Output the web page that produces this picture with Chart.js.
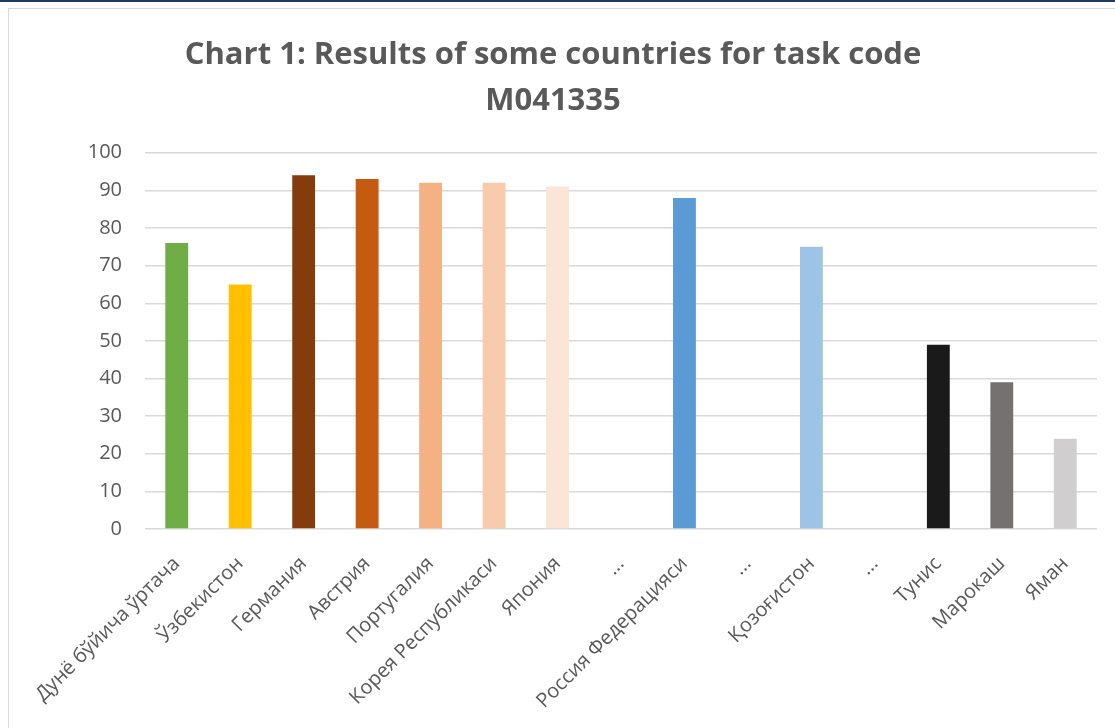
<!DOCTYPE html>
<html>
<head>
<meta charset="utf-8">
<script src="https://cdn.jsdelivr.net/npm/chart.js@4.4.0/dist/chart.umd.min.js"></script>
<style>
  html, body { margin: 0; padding: 0; background: #fff; overflow: hidden; }
  #topline { position: absolute; left: 0; top: 0; width: 1115px; height: 2px; background: #1f3864; }
  #frame { position: absolute; left: 8px; top: 8px; width: 1116px; height: 720px;
           border-left: 1px solid #d9d9d9; border-top: 1px solid #d9d9d9; }
  #chart { position: absolute; left: 0; top: 0; }
</style>
</head>
<body>
<div id="topline"></div>
<div id="frame">
  <canvas id="chart" width="1116" height="720"></canvas>
</div>
<script>
// categories, scores and bar colours
const countries = [
  'Дунё бўйича ўртача', 'Ўзбекистон', 'Германия', 'Австрия', 'Португалия',
  'Корея Республикаси', 'Япония', '...', 'Россия Федерацияси', '...',
  'Қозоғистон', '...', 'Тунис', 'Марокаш', 'Яман'
];
const scores = [76, 65, 94, 93, 92, 92, 91, null, 88, null, 75, null, 49, 39, 24];
const barColors = [
  '#70ad47', '#ffc000', '#843c0c', '#c55a11', '#f4b183',
  '#f8cbad', '#fbe5d6', '#ffffff', '#5b9bd5', '#ffffff',
  '#9dc3e6', '#ffffff', '#1a1a1a', '#767171', '#d0cece'
];
const yTicks = [0, 10, 20, 30, 40, 50, 60, 70, 80, 90, 100];

const textColor = '#595959';
const gridColor = '#d9d9d9';

new Chart(document.getElementById('chart'), {
  type: 'bar',
  data: {
    labels: countries,
    datasets: [{
      data: scores,
      backgroundColor: barColors,
      borderWidth: 0,
      barPercentage: 0.72,
      categoryPercentage: 0.5
    }]
  },
  options: {
    responsive: false,
    animation: false,
    layout: { padding: { left: 0, right: 28, top: 0, bottom: 0 } },
    plugins: {
      legend: { display: false },
      tooltip: { enabled: false },
      title: {
        display: true,
        text: ['Chart 1: Results of some countries for task code', 'M041335'],
        color: textColor,
        font: { family: 'Open Sans', size: 31, weight: 'bold', lineHeight: 1.48 },
        padding: { top: 23, bottom: 29 }
      }
    },
    scales: {
      x: {
        grid: { display: false },
        border: { display: false },
        ticks: {
          color: textColor,
          font: { family: 'Open Sans', size: 20 },
          minRotation: 45,
          maxRotation: 45,
          autoSkip: false,
          padding: 15
        },
        afterFit: (scale) => { scale.height = 200; }
      },
      y: {
        min: 0,
        max: 100,
        afterBuildTicks: (scale) => { scale.ticks = yTicks.map(v => ({ value: v })); },
        grid: { color: gridColor, lineWidth: 1.5, drawTicks: false },
        border: { display: false },
        ticks: {
          color: textColor,
          font: { family: 'Open Sans', size: 20 },
          padding: 23
        },
        afterFit: (scale) => { scale.width = 136; }
      }
    }
  }
});
</script>
</body>
</html>
